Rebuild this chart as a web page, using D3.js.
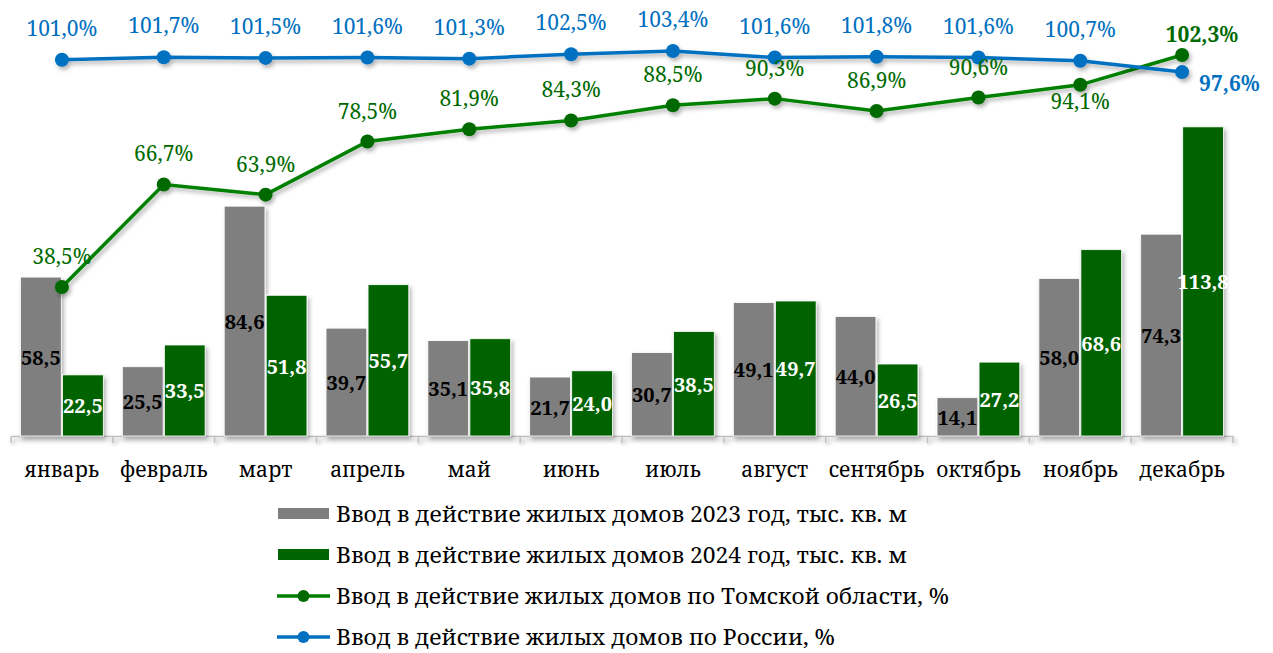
<!DOCTYPE html>
<html>
<head>
<meta charset="utf-8">
<script src="https://cdn.jsdelivr.net/npm/d3@7"></script>
<style>
  body { margin: 0; background: #fff; }
  svg { display: block; }
  .axis path.domain { stroke: #bfbfbf; stroke-width: 1.5px; }
  .month { font-family: 'Noto Serif', serif; font-size: 21px; fill: #000; }
  .pct { font-family: 'Noto Serif', serif; font-size: 21px; }
  .barLabel { font-family: 'Noto Serif', serif; font-size: 20px; font-weight: bold; }
  .legend text { font-family: 'Noto Serif', serif; font-size: 22px; fill: #000; }
</style>
</head>
<body>
<div id="chart"></div>
<script>
const months = ['январь', 'февраль', 'март', 'апрель', 'май', 'июнь', 'июль', 'август', 'сентябрь', 'октябрь', 'ноябрь', 'декабрь'];
const vol2023 = [58.5, 25.5, 84.6, 39.7, 35.1, 21.7, 30.7, 49.1, 44.0, 14.1, 58.0, 74.3];
const vol2024 = [22.5, 33.5, 51.8, 55.7, 35.8, 24.0, 38.5, 49.7, 26.5, 27.2, 68.6, 113.8];
const tomsk = [38.5, 66.7, 63.9, 78.5, 81.9, 84.3, 88.5, 90.3, 86.9, 90.6, 94.1, 102.3];
const russia = [101.0, 101.7, 101.5, 101.6, 101.3, 102.5, 103.4, 101.6, 101.8, 101.6, 100.7, 97.6];
const legendLabels = [
  'Ввод в действие жилых домов 2023 год, тыс. кв. м',
  'Ввод в действие жилых домов 2024 год, тыс. кв. м',
  'Ввод в действие жилых домов по Томской области, %',
  'Ввод в действие жилых домов по России, %'
];
// legend text in the original is a narrow face, so squeeze to these widths
const legendWidths = [571, 571, 613, 499];

const GRAY = '#7f7f7f', GREEN_BAR = '#006400', GREEN_LINE = '#008000', GREEN_DOT = '#006a00', BLUE = '#0070c0';
const fmt = v => v.toFixed(1).replace('.', ',');

const width = 1273, height = 653;
const svg = d3.select('#chart').append('svg').attr('width', width).attr('height', height);

const defs = svg.append('defs');
const shadow = defs.append('filter').attr('id', 'shadow').attr('x', '-20%').attr('y', '-20%').attr('width', '150%').attr('height', '150%');
shadow.append('feDropShadow').attr('dx', 2).attr('dy', 3).attr('stdDeviation', 2).attr('flood-color', '#000').attr('flood-opacity', 0.3);

const x = d3.scaleBand().domain(months).range([11, 1233]);
const xInner = d3.scaleBand().domain(['2023', '2024']).range([0, x.bandwidth()]).paddingInner(0.03).paddingOuter(0.227);
const yBar = d3.scaleLinear().domain([0, 120]).range([436, 110]);
const yPct = d3.scaleLinear().domain([0, 110]).range([427, 27]);
const cx = m => x(m) + x.bandwidth() / 2;

// axis
const axis = svg.append('g').attr('class', 'axis').attr('transform', 'translate(0,436)')
  .call(d3.axisBottom(x).tickSize(0).tickPadding(0).tickFormat(''))
  .attr('filter', 'url(#shadow)');
axis.selectAll('.tick').remove();
axis.selectAll('line.bound').data(months.map(m => x(m)).concat([x.range()[1]]))
  .enter().append('line').attr('class', 'bound')
  .attr('x1', d => d).attr('x2', d => d).attr('y1', 0).attr('y2', 7)
  .attr('stroke', '#bfbfbf').attr('stroke-width', 1.5);

svg.append('g').selectAll('text').data(months).enter().append('text')
  .attr('class', 'month').attr('x', d => cx(d)).attr('y', 477).attr('text-anchor', 'middle').text(d => d);

// bars
const bars = months.map((m, i) => [
  { m, key: '2023', v: vol2023[i], fill: GRAY, text: '#000' },
  { m, key: '2024', v: vol2024[i], fill: GREEN_BAR, text: '#fff' }
]).flat();

svg.append('g').attr('filter', 'url(#shadow)').selectAll('rect').data(bars).enter().append('rect')
  .attr('x', d => x(d.m) + xInner(d.key))
  .attr('width', xInner.bandwidth())
  .attr('y', d => yBar(d.v))
  .attr('height', d => yBar(0) - yBar(d.v))
  .attr('fill', d => d.fill)
  .attr('stroke', '#fff').attr('stroke-width', 0.8);

svg.append('g').selectAll('text').data(bars).enter().append('text')
  .attr('class', 'barLabel')
  .attr('x', d => x(d.m) + xInner(d.key) + xInner.bandwidth() / 2)
  .attr('y', d => (yBar(d.v) + yBar(0)) / 2 + 8)
  .attr('text-anchor', 'middle')
  .attr('fill', d => d.text)
  .text(d => fmt(d.v));

// lines
function drawLine(values, lineColor, dotColor) {
  const pts = months.map((m, i) => ({ m, i, v: values[i] }));
  const g = svg.append('g').attr('filter', 'url(#shadow)');
  g.append('path').datum(pts)
    .attr('d', d3.line().x(d => cx(d.m)).y(d => yPct(d.v)))
    .attr('fill', 'none').attr('stroke', lineColor).attr('stroke-width', 3.5);
  g.selectAll('circle').data(pts).enter().append('circle')
    .attr('cx', d => cx(d.m)).attr('cy', d => yPct(d.v)).attr('r', 7).attr('fill', dotColor);
  return pts;
}
const tomskPts = drawLine(tomsk, GREEN_LINE, GREEN_DOT);
const russiaPts = drawLine(russia, BLUE, BLUE);

const last = months.length - 1;
svg.append('g').selectAll('text').data(tomskPts).enter().append('text')
  .attr('class', 'pct')
  .attr('x', d => d.i === last ? cx(d.m) + 20 : cx(d.m))
  .attr('y', d => d.i === last ? yPct(d.v) - 13 : d.i === 10 ? yPct(d.v) + 24 : yPct(d.v) - 23)
  .attr('text-anchor', 'middle')
  .attr('font-weight', d => d.i === last ? 'bold' : 'normal')
  .attr('fill', GREEN_DOT)
  .text(d => fmt(d.v) + '%');

svg.append('g').selectAll('text').data(russiaPts).enter().append('text')
  .attr('class', 'pct')
  .attr('x', d => d.i === last ? cx(d.m) + 17 : cx(d.m))
  .attr('y', d => d.i === last ? yPct(d.v) + 19 : yPct(d.v) - 24)
  .attr('text-anchor', d => d.i === last ? 'start' : 'middle')
  .attr('font-weight', d => d.i === last ? 'bold' : 'normal')
  .attr('fill', BLUE)
  .text(d => fmt(d.v) + '%');

// legend
const legend = svg.append('g').attr('class', 'legend');
const rows = [
  { type: 'bar', color: GRAY },
  { type: 'bar', color: GREEN_BAR },
  { type: 'line', color: GREEN_LINE, dot: GREEN_DOT },
  { type: 'line', color: BLUE, dot: BLUE }
];
const legendY = d3.scalePoint().domain(d3.range(4)).range([514, 637]);
rows.forEach((r, i) => {
  const g = legend.append('g').attr('transform', `translate(0,${legendY(i)})`);
  if (r.type === 'bar') {
    g.append('rect').attr('x', 278).attr('y', -6).attr('width', 51).attr('height', 11).attr('fill', r.color);
  } else {
    g.append('line').attr('x1', 277).attr('x2', 330).attr('y1', 0).attr('y2', 0).attr('stroke', r.color).attr('stroke-width', 3.5);
    g.append('circle').attr('cx', 303.5).attr('cy', 0).attr('r', 6).attr('fill', r.dot);
  }
  g.append('text').attr('x', 336).attr('y', 8)
    .attr('textLength', legendWidths[i]).attr('lengthAdjust', 'spacingAndGlyphs')
    .text(legendLabels[i]);
});
</script>
</body>
</html>
